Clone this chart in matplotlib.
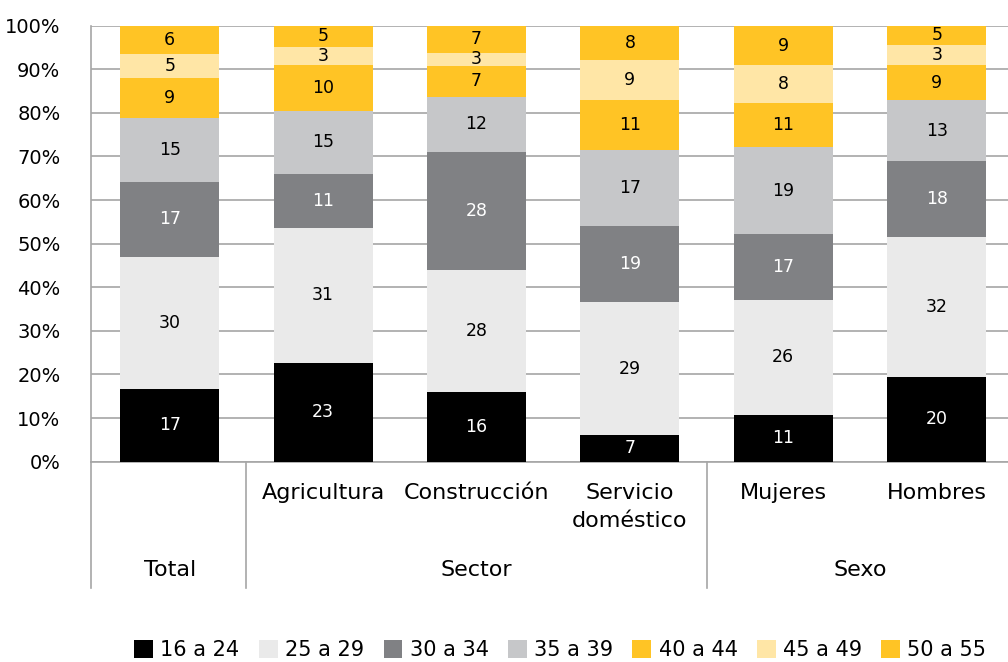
from matplotlib import pyplot as plt
from matplotlib.patches import Patch
import matplotlib.transforms as mtransforms
import numpy as np

#%% datos (porcentaje por tramo de edad)

categorias = ['Total', 'Agricultura', 'Construcción', 'Servicio\ndoméstico', 'Mujeres', 'Hombres']
grupos = ['Total', 'Sector', 'Sexo']
pos_grupos = [0, 2, 4.5] # centro de cada grupo (en posiciones de categoria)
separadores = [0.5, 3.5] # lineas verticales entre grupos (la primera es el eje)

edades = ['16 a 24', '25 a 29', '30 a 34', '35 a 39', '40 a 44', '45 a 49', '50 a 55']

# alto de cada segmento (%)
pct_16_24 = [16.7, 22.7, 16.0, 6.05, 10.7, 19.4]
pct_25_29 = [30.35, 30.9, 28.0, 30.6, 26.4, 32.2]
pct_30_34 = [17.0, 12.4, 27.06, 17.4, 15.1, 17.35]
pct_35_39 = [14.75, 14.45, 12.6, 17.5, 19.9, 14.0]
pct_40_44 = [9.3, 10.55, 7.1, 11.4, 10.1, 8.0]
pct_45_49 = [5.35, 4.1, 3.0, 9.17, 8.7, 4.6]
pct_50_55 = [6.4, 4.9, 6.26, 7.87, 9.0, 4.4]

# etiquetas que muestra el grafico
etq_16_24 = [17, 23, 16, 7, 11, 20]
etq_25_29 = [30, 31, 28, 29, 26, 32]
etq_30_34 = [17, 11, 28, 19, 17, 18]
etq_35_39 = [15, 15, 12, 17, 19, 13]
etq_40_44 = [9, 10, 7, 11, 11, 9]
etq_45_49 = [5, 3, 3, 9, 8, 3]
etq_50_55 = [6, 5, 7, 8, 9, 5]

pcts = [pct_16_24, pct_25_29, pct_30_34, pct_35_39, pct_40_44, pct_45_49, pct_50_55]
etqs = [etq_16_24, etq_25_29, etq_30_34, etq_35_39, etq_40_44, etq_45_49, etq_50_55]
colores = ['#000000', '#EAEAEA', '#808184', '#C6C7C9', '#FFC425', '#FFE6A6', '#FFC425']
col_texto = ['white', 'black', 'white', 'black', 'black', 'black', 'black']
gris = '#A6A6A6'

#%% grafico de barras apiladas

plt.rcParams['font.family'] = ['DejaVu Sans']

fig = plt.figure(figsize=(10.08, 6.62), dpi=100)
ax = fig.add_axes([91/1008, 0.3026, 6*153.4/1008, 0.9612-0.3026])

x = np.arange(len(categorias))
base = np.zeros(len(categorias))
for i in range(len(edades)):
    h = np.array(pcts[i])
    ax.bar(x, h, bottom=base, width=0.645, color=colores[i], zorder=3)
    for j in range(len(x)):
        ax.text(x[j], base[j] + h[j]/2, str(etqs[i][j]), ha='center', va='center',
                fontsize=12.5, color=col_texto[i], zorder=4)
    base = base + h

ax.set_xlim(-0.513, 5.487)
ax.set_ylim(0, 100)
ax.set_yticks(np.arange(0, 101, 10))
ax.set_yticklabels([f'{v}%' for v in range(0, 101, 10)], fontsize=14)
ax.tick_params(axis='y', length=0, pad=22)
ax.set_xticks([])
ax.yaxis.grid(True, color=gris, lw=1.2, zorder=0)
ax.set_axisbelow(True)
for s in ['top', 'right']:
    ax.spines[s].set_visible(False)
for s in ['left', 'bottom']:
    ax.spines[s].set_color(gris)
    ax.spines[s].set_linewidth(1.2)

# eje de categorias en dos niveles
trans = mtransforms.blended_transform_factory(ax.transData, ax.transAxes)
for xs in [ax.get_xlim()[0]] + separadores:
    ax.plot([xs, xs], [0, -0.289], color=gris, lw=1.2, transform=trans, clip_on=False)
for j, c in enumerate(categorias):
    if c == 'Total':
        continue
    ax.text(x[j], -0.05, c, transform=trans, ha='center', va='top', fontsize=16, linespacing=1.5)
for g, p in zip(grupos, pos_grupos):
    ax.text(p, -0.248, g, transform=trans, ha='center', va='center', fontsize=16)

# leyenda
handles = [Patch(facecolor=colores[i], label=edades[i]) for i in range(len(edades))]
fig.legend(handles=handles, loc='center', bbox_to_anchor=(0.556, 0.018), ncol=7, frameon=False,
           fontsize=15, handlelength=0.9, handleheight=0.9, handletextpad=0.35, columnspacing=0.93)

plt.savefig('out.png', dpi=100)
